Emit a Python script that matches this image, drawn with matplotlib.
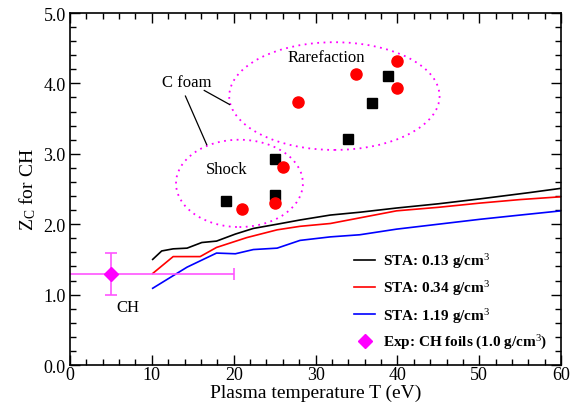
import matplotlib
matplotlib.use("Agg")
import matplotlib.pyplot as plt
from matplotlib.patches import Ellipse
from matplotlib.ticker import MultipleLocator, FormatStrFormatter

plt.rcParams['font.family'] = ['Liberation Serif', 'DejaVu Serif']
plt.rcParams['mathtext.fontset'] = 'custom'
plt.rcParams['mathtext.rm'] = 'Liberation Serif'
plt.rcParams['mathtext.it'] = 'Liberation Serif:italic'
plt.rcParams['mathtext.bf'] = 'Liberation Serif:bold'

# STA curves (temperature in eV, Z_C)
t_013 = [10.1, 11.2, 12.6, 14.3, 16.1, 17.9, 20.2, 22.4, 25.3, 28.1, 31.8, 35.4, 39.9, 45.0, 50.1, 56.2, 60.0]
z_013 = [1.50, 1.62, 1.65, 1.66, 1.74, 1.76, 1.86, 1.94, 2.00, 2.06, 2.13, 2.17, 2.23, 2.29, 2.36, 2.45, 2.51]

t_034 = [10.1, 12.6, 15.9, 17.9, 21.6, 25.3, 28.1, 31.8, 35.4, 39.9, 45.0, 50.1, 55.0, 60.0]
z_034 = [1.30, 1.54, 1.54, 1.67, 1.81, 1.92, 1.97, 2.01, 2.09, 2.19, 2.24, 2.30, 2.35, 2.39]

t_119 = [10.1, 14.3, 17.9, 20.2, 22.4, 25.3, 28.1, 31.8, 35.4, 39.9, 45.0, 50.1, 55.0, 60.0]
z_119 = [1.09, 1.39, 1.59, 1.58, 1.64, 1.66, 1.77, 1.82, 1.85, 1.93, 2.00, 2.07, 2.13, 2.19]

# C foam results
sq_t = [19.0, 25.0, 25.0, 34.0, 36.9, 38.9]
sq_z = [2.33, 2.42, 2.92, 3.21, 3.72, 4.11]
ci_t = [21.0, 25.0, 26.0, 27.9, 34.9, 40.0, 40.0]
ci_z = [2.22, 2.30, 2.81, 3.73, 4.14, 4.32, 3.93]

# CH foil experiment
exp_t = [5.0]
exp_z = [1.29]
exp_terr = [15.0]
exp_zerr = [0.30]

fig = plt.figure(figsize=(5.72, 4.06), dpi=100)
ax = fig.add_axes([0.1224, 0.0985, 0.8586, 0.867])

ax.plot(t_013, z_013, color='black', lw=1.2, label='STA: 0.13 g/cm$^3$')
ax.plot(t_034, z_034, color='red', lw=1.2, label='STA: 0.34 g/cm$^3$')
ax.plot(t_119, z_119, color='blue', lw=1.2, label='STA: 1.19 g/cm$^3$')

ax.errorbar(exp_t, exp_z, xerr=exp_terr, yerr=exp_zerr, fmt='none',
            ecolor='#ff55ff', elinewidth=1.2, capsize=4, capthick=1.2)
ax.plot(exp_t, exp_z, linestyle='none', marker='D', color='#ff00ff',
        markersize=7, label='Exp: CH foils (1.0 g/cm$^3$)')

ax.plot(sq_t, sq_z, linestyle='none', marker='s', color='black', markersize=7)
ax.plot(ci_t, ci_z, linestyle='none', marker='o', color='red', markersize=8)

ax.add_patch(Ellipse((32.3, 3.82), 25.7, 1.53, fill=False, edgecolor='#ff00ff',
                     linestyle=(0, (1, 2.5)), lw=1.3))
ax.add_patch(Ellipse((20.7, 2.58), 15.5, 1.24, fill=False, edgecolor='#ff00ff',
                     linestyle=(0, (1, 2.5)), lw=1.3))

ax.text(31.3, 4.38, 'Rarefaction', fontsize=12, ha='center', va='center')
ax.text(19.2, 2.79, 'Shock', fontsize=12, ha='center', va='center')
ax.text(14.3, 4.02, 'C foam', fontsize=12, ha='center', va='center')
ax.text(7.1, 0.83, 'CH', fontsize=12, ha='center', va='center')
ax.plot([16.4, 19.5], [3.90, 3.70], color='black', lw=0.9)
ax.plot([14.1, 16.7], [3.82, 3.13], color='black', lw=0.9)

ax.set_xlim(0, 60)
ax.set_ylim(0, 5)
ax.xaxis.set_major_locator(MultipleLocator(10))
ax.xaxis.set_minor_locator(MultipleLocator(2))
ax.yaxis.set_major_locator(MultipleLocator(1))
ax.yaxis.set_minor_locator(MultipleLocator(0.2))
ax.yaxis.set_major_formatter(FormatStrFormatter('%.1f'))
ax.tick_params(which='both', direction='in', top=True, right=True, labelsize=13)
ax.tick_params(axis='x', which='both', pad=1)
ax.tick_params(axis='y', which='both', pad=3)
ax.tick_params(which='major', length=7, width=1)
ax.tick_params(which='minor', length=4, width=1)
for s in ax.spines.values():
    s.set_linewidth(1.2)

ax.set_xlabel('Plasma temperature T (eV)', fontsize=14, labelpad=0)
ax.set_ylabel('Z$_\\mathrm{C}$ for CH', fontsize=14, labelpad=4)

leg = ax.legend(loc='lower right', frameon=False, prop={'weight': 'bold', 'size': 11},
                handlelength=1.4, handletextpad=0.5, labelspacing=0.55,
                borderaxespad=0.5, numpoints=1)

fig.savefig('out.png', dpi=100)
